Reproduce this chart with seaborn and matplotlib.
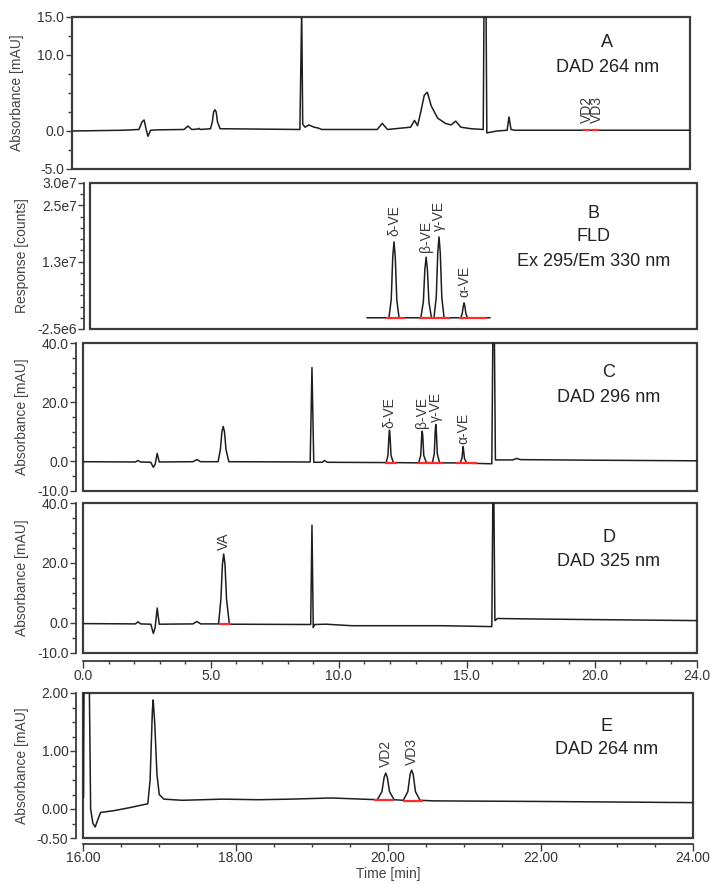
import numpy as np
import pandas as pd
import matplotlib
matplotlib.use("Agg")
import matplotlib.pyplot as plt
import seaborn as sns
from matplotlib.ticker import FixedLocator, MultipleLocator

sns.set_style("ticks")
plt.rcParams['font.family'] = ['Liberation Sans', 'DejaVu Sans']
plt.rcParams['axes.unicode_minus'] = False

# ---- data ----
# A: DAD 264 nm
a_time = [0.0, 2.0, 2.6, 2.72, 2.8, 2.88, 2.95, 3.05, 3.3, 4.35, 4.5, 4.65, 4.88, 4.93, 4.98,
          5.38, 5.45, 5.5, 5.55, 5.6, 5.65, 5.75, 8.85, 8.92, 8.96, 9.05, 9.2, 9.4, 9.55, 9.7,
          11.85, 12.05, 12.25, 13.15, 13.3, 13.42, 13.55, 13.68, 13.8, 13.95, 14.2, 14.5,
          14.72, 14.9, 15.1, 15.5, 15.97, 16.0, 16.08, 16.11, 16.5, 16.9, 16.97, 17.05, 17.2, 24.0]
a_signal = [0.0, 0.1, 0.2, 1.2, 1.45, 0.2, -0.7, 0.1, 0.15, 0.2, 0.65, 0.2, 0.25, 0.35, 0.2,
            0.3, 1.2, 2.5, 2.8, 2.5, 1.2, 0.3, 0.2, 16.0, 0.9, 0.5, 0.8, 0.5, 0.4, 0.2,
            0.2, 1.0, 0.2, 0.5, 1.4, 0.7, 2.6, 4.7, 5.1, 3.3, 1.7, 1.0,
            0.8, 1.3, 0.5, 0.3, 0.2, 16.0, 16.0, -0.25, 0.0, 0.1, 1.85, 0.2, 0.1, 0.1]
a_peaks = ["VD2", "VD3"]
a_peak_time = [19.99, 20.37]
a_peak_top = [0.1, 0.1]
a_int_start = [19.84, 20.2]
a_int_end = [20.1, 20.45]
a_int_level = [0.1, 0.1]

# B: FLD
b_time = [10.95, 11.82, 11.91, 11.97, 12.02, 12.07, 12.13, 12.22,
          13.08, 13.18, 13.24, 13.29, 13.34, 13.40, 13.5,
          13.6, 13.69, 13.75, 13.8, 13.85, 13.91, 14.0,
          14.66, 14.72, 14.76, 14.79, 14.82, 14.86, 14.92, 15.82]
b_signal = [0.0, 0.0, 4.0e6, 1.35e7, 1.69e7, 1.35e7, 4.0e6, 0.0,
            0.0, 3.5e6, 1.08e7, 1.35e7, 1.08e7, 3.5e6, 0.0,
            0.0, 4.5e6, 1.44e7, 1.80e7, 1.44e7, 4.5e6, 0.0,
            0.0, 1.0e6, 2.6e6, 3.3e6, 2.6e6, 1.0e6, 0.0, 0.0]
b_peaks = ["δ-VE", "β-VE", "γ-VE", "α-VE"]
b_peak_time = [12.02, 13.29, 13.8, 14.79]
b_peak_top = [1.69e7, 1.35e7, 1.80e7, 3.3e6]
b_int_start = [11.7, 13.0, 14.6]
b_int_end = [12.46, 14.23, 15.7]
b_int_level = [0.0, 0.0, 0.0]

# C: DAD 296 nm
c_time = [0.0, 2.05, 2.15, 2.25, 2.65, 2.75, 2.82, 2.9, 2.98, 4.3, 4.45, 4.6,
          5.28, 5.37, 5.43, 5.48, 5.53, 5.59, 5.7, 8.88, 8.95, 9.02, 9.35, 9.44, 9.55,
          11.85, 11.92, 11.96, 11.98, 12.0, 12.04, 12.13,
          13.12, 13.2, 13.24, 13.26, 13.28, 13.32, 13.42,
          13.66, 13.73, 13.77, 13.79, 13.81, 13.85, 13.94,
          14.74, 14.81, 14.85, 14.86, 14.87, 14.91, 15.0,
          15.98, 16.02, 16.08, 16.12, 16.8, 16.95, 17.1, 20.0, 24.0]
c_signal = [-0.1, -0.2, 0.3, -0.2, -0.3, -2.0, -1.0, 2.7, -0.2, -0.1, 0.6, -0.1,
            -0.1, 4.0, 10.0, 11.8, 10.0, 4.0, -0.1, -0.2, 31.7, -0.3, -0.3, 0.3, -0.3,
            -0.4, 2.0, 8.8, 10.5, 8.8, 2.0, -0.4,
            -0.5, 2.0, 8.6, 10.2, 8.6, 2.0, -0.4,
            -0.4, 2.5, 10.5, 12.5, 10.5, 2.5, -0.5,
            -0.5, 1.0, 4.2, 5.0, 4.2, 1.0, -0.6,
            -0.8, 42.0, 42.0, 0.5, 0.5, 1.0, 0.6, 0.4, 0.2]
c_peaks = ["δ-VE", "β-VE", "γ-VE", "α-VE"]
c_peak_time = [11.98, 13.26, 13.79, 14.86]
c_peak_top = [10.5, 10.2, 12.5, 5.0]
c_int_start = [11.8, 13.08, 14.59]
c_int_end = [12.28, 14.06, 15.39]
c_int_level = [-0.45, -0.5, -0.55]

# D: DAD 325 nm
d_time = [0.0, 2.05, 2.15, 2.25, 2.65, 2.75, 2.82, 2.9, 2.98, 4.3, 4.45, 4.6,
          5.3, 5.39, 5.45, 5.5, 5.55, 5.61, 5.72, 8.9, 8.95, 9.0, 9.05, 9.5, 10.5, 14.0,
          15.98, 16.02, 16.06, 16.1, 16.2, 18.0, 24.0]
d_signal = [-0.2, -0.3, 0.4, -0.3, -0.4, -3.5, -1.5, 5.0, -0.4, -0.3, 0.5, -0.3,
            -0.3, 8.0, 19.5, 23.0, 19.5, 8.0, -0.4, -0.5, 32.6, -1.5, -0.5, -0.4, -0.9, -0.9,
            -1.2, 42.0, 42.0, 0.8, 1.5, 1.3, 0.8]
d_peaks = ["VA"]
d_peak_time = [5.5]
d_peak_top = [23.0]
d_int_start = [5.33]
d_int_end = [5.77]
d_int_level = [-0.3]

# E: DAD 264 nm, 16-24 min
e_time = [16.0, 16.005, 16.015, 16.08, 16.1, 16.13, 16.16, 16.19, 16.23, 16.4, 16.6, 16.85,
          16.88, 16.91, 16.92, 16.94, 16.97, 17.0, 17.06, 17.3, 17.83, 18.3, 18.72, 19.26,
          19.86, 19.92, 19.95, 19.97, 19.99, 20.02, 20.08,
          20.2, 20.26, 20.29, 20.31, 20.33, 20.36, 20.42, 20.6, 22.0, 24.0]
e_signal = [2.5, 0.2, 2.5, 2.5, 0.0, -0.25, -0.31, -0.2, -0.06, -0.03, 0.02, 0.09,
            0.5, 1.7, 1.88, 1.5, 0.6, 0.25, 0.17, 0.15, 0.17, 0.16, 0.17, 0.19,
            0.16, 0.3, 0.55, 0.62, 0.55, 0.3, 0.16,
            0.15, 0.3, 0.6, 0.67, 0.6, 0.3, 0.15, 0.14, 0.13, 0.11]
e_peaks = ["VD2", "VD3"]
e_peak_time = [19.97, 20.31]
e_peak_top = [0.62, 0.67]
e_int_start = [19.81, 20.2]
e_int_end = [20.08, 20.46]
e_int_level = [0.155, 0.14]

# tick labels
a_yticks = [-5, 0, 10, 15]
a_yticklabels = ["-5.0", "0.0", "10.0", "15.0"]
b_yticks = [-2.5e6, 1.25e7, 2.5e7, 3.0e7]
b_yticklabels = ["-2.5e6", "1.3e7", "2.5e7", "3.0e7"]
cd_yticks = [-10, 0, 20, 40]
cd_yticklabels = ["-10.0", "0.0", "20.0", "40.0"]
e_yticks = [-0.5, 0, 1, 2]
e_yticklabels = ["-0.50", "0.00", "1.00", "2.00"]
d_xticks = [0, 5, 10, 15, 20, 24]
d_xticklabels = ["0.0", "5.0", "10.0", "15.0", "20.0", "24.0"]
e_xticks = [16, 18, 20, 22, 24]
e_xticklabels = ["16.00", "18.00", "20.00", "22.00", "24.00"]

W, H = 710, 884
fig = plt.figure(figsize=(W / 100, H / 100), dpi=100)
TXT = '#333333'
LINE = '#1e1e1e'
FRAME = '#3c3c3c'


def rect(x0, x1, y0, y1):
    return [x0 / W, 1 - y1 / H, (x1 - x0) / W, (y1 - y0) / H]


def make_panel(r, xlim, ylim, yticks, yticklabels, yminor, ylabel, label_x, left_off,
               xticks=None, xticklabels=None, xminor=None, bottom_off=0):
    ax = fig.add_axes(r)
    ax.set_xlim(xlim)
    ax.set_ylim(ylim)
    ax.patch.set_facecolor('white')
    ax.patch.set_edgecolor(FRAME)
    ax.patch.set_linewidth(1.6)
    for s in ['top', 'right']:
        ax.spines[s].set_visible(False)
    ax.spines['left'].set_position(('outward', left_off))
    ax.spines['left'].set_color(FRAME)
    ax.spines['left'].set_linewidth(1.3)
    ax.yaxis.set_major_locator(FixedLocator(yticks))
    ax.set_yticklabels(yticklabels)
    ax.yaxis.set_minor_locator(MultipleLocator(yminor))
    ax.tick_params(axis='y', which='both', left=True, direction='out', width=1, color=FRAME)
    ax.tick_params(axis='y', which='major', length=4, labelsize=10, labelcolor=TXT, pad=1.5)
    ax.tick_params(axis='y', which='minor', length=3)
    if xticks is None:
        ax.spines['bottom'].set_visible(False)
        ax.set_xticks([])
        ax.tick_params(axis='x', which='both', bottom=False, labelbottom=False)
    else:
        ax.spines['bottom'].set_position(('outward', bottom_off))
        ax.spines['bottom'].set_color(FRAME)
        ax.spines['bottom'].set_linewidth(1.3)
        ax.xaxis.set_major_locator(FixedLocator(xticks))
        ax.set_xticklabels(xticklabels)
        ax.xaxis.set_minor_locator(MultipleLocator(xminor))
        ax.tick_params(axis='x', which='both', bottom=True, direction='out', width=1, color=FRAME)
        ax.tick_params(axis='x', which='major', length=5, labelsize=10, labelcolor=TXT, pad=0.5)
        ax.tick_params(axis='x', which='minor', length=2.5)
    ax.set_ylabel(ylabel, fontsize=10, color='#444444')
    ax.yaxis.label.set_va('center')
    ax.yaxis.set_label_coords((label_x - r[0] * W) / (r[2] * W), 0.5)
    return ax


def draw(ax, t, v, peaks, ptime, ptop, istart, iend, ilevel, off, title_lines, title_pos):
    df = pd.DataFrame({'time': t, 'signal': v})
    sns.lineplot(data=df, x='time', y='signal', ax=ax, color=LINE, linewidth=1.1,
                 estimator=None, sort=False, legend=False)
    ax.set_xlabel('')
    for s, e, lv in zip(istart, iend, ilevel):
        ax.plot([s, e], [lv, lv], color='#ff2a2a', linewidth=1.6, solid_capstyle='butt')
    for name, pt, top in zip(peaks, ptime, ptop):
        ax.annotate(name, xy=(pt, top), xytext=(0, off), textcoords='offset points',
                    rotation=90, ha='center', va='bottom', fontsize=10, color='#3a3a3a')
    for txt, (xf, yf) in zip(title_lines, title_pos):
        ax.text(xf, yf, txt, transform=ax.transAxes, ha='center', va='center',
                fontsize=13, color='#222222')


axA = make_panel(rect(72, 690, 17, 169), (0, 24), (-5, 15), a_yticks, a_yticklabels, 2.5,
                 "Absorbance [mAU]", 17, 0)
draw(axA, a_time, a_signal, a_peaks, a_peak_time, a_peak_top, a_int_start, a_int_end,
     a_int_level, 5, ["A", "DAD 264 nm"], [(0.866, 0.829), (0.866, 0.671)])

axB = make_panel(rect(90, 697, 183, 329), (0, 24), (-2.5e6, 3.0e7), b_yticks, b_yticklabels,
                 2.5e6, "Response [counts]", 22, 4)
draw(axB, b_time, b_signal, b_peaks, b_peak_time, b_peak_top, b_int_start, b_int_end,
     b_int_level, 4, ["B", "FLD", "Ex 295/Em 330 nm"],
     [(0.829, 0.79), (0.829, 0.634), (0.829, 0.459)])

axC = make_panel(rect(83, 697, 343, 491), (0, 24), (-10, 40), cd_yticks, cd_yticklabels, 5,
                 "Absorbance [mAU]", 22, 5)
draw(axC, c_time, c_signal, c_peaks, c_peak_time, c_peak_top, c_int_start, c_int_end,
     c_int_level, 2, ["C", "DAD 296 nm"], [(0.856, 0.80), (0.856, 0.63)])

axD = make_panel(rect(83, 697, 503, 653), (0, 24), (-10, 40), cd_yticks, cd_yticklabels, 5,
                 "Absorbance [mAU]", 22, 5, d_xticks, d_xticklabels, 1, 6)
draw(axD, d_time, d_signal, d_peaks, d_peak_time, d_peak_top, d_int_start, d_int_end,
     d_int_level, 3, ["D", "DAD 325 nm"], [(0.856, 0.767), (0.856, 0.613)])

axE = make_panel(rect(83, 693, 693, 838), (16, 24), (-0.5, 2.0), e_yticks, e_yticklabels, 0.25,
                 "Absorbance [mAU]", 22, 5, e_xticks, e_xticklabels, 0.5, 4)
draw(axE, e_time, e_signal, e_peaks, e_peak_time, e_peak_top, e_int_start, e_int_end,
     e_int_level, 4, ["E", "DAD 264 nm"], [(0.859, 0.766), (0.859, 0.607)])
axE.set_xlabel("Time [min]", fontsize=10, color='#444444', labelpad=1)

fig.savefig("out.png", dpi=100)
